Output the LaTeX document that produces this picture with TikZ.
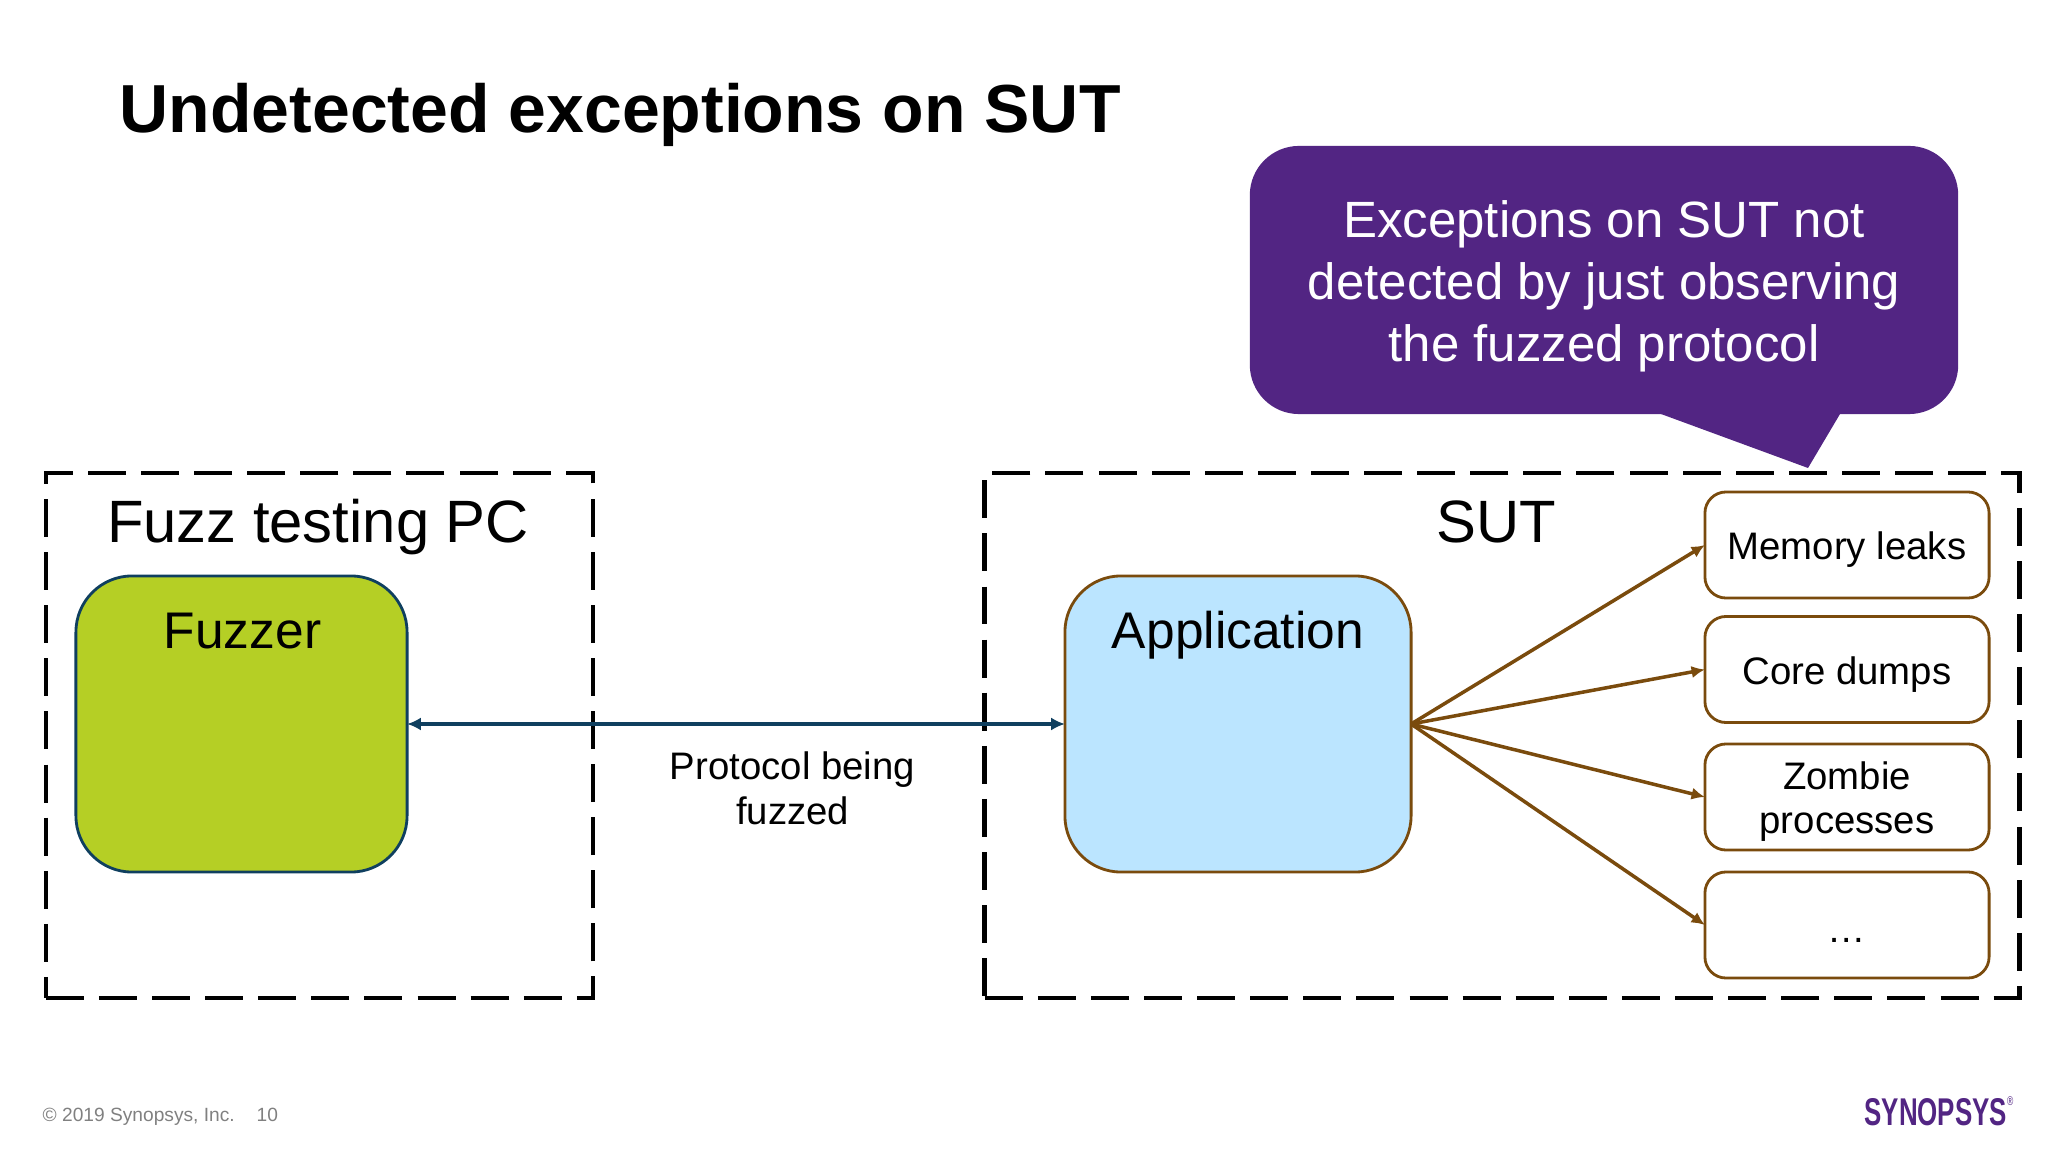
\documentclass[tikz,border=0pt]{standalone}
\usepackage{fontspec}
\setmainfont{Liberation Sans}
\usetikzlibrary{arrows.meta}
\definecolor{sparkpurple}{HTML}{522583}
\definecolor{fuzzgreen}{HTML}{B5CF25}
\definecolor{appblue}{HTML}{BBE5FF}
\definecolor{linkblue}{HTML}{0F3F5F}
\definecolor{faultbrown}{HTML}{7A4B0D}
\definecolor{footgray}{HTML}{808080}
\tikzset{
  dashbox/.style={draw=black,line width=1.3pt,dash pattern=on 10.8pt off 4.3pt,inner sep=0pt,outer sep=0pt},
  fuzzbox/.style={draw=linkblue,fill=fuzzgreen,line width=0.8pt,rounded corners=16pt,inner sep=0pt,outer sep=0pt},
  appbox/.style={draw=faultbrown,fill=appblue,line width=0.8pt,rounded corners=16pt,inner sep=0pt,outer sep=0pt},
  faultbox/.style={draw=faultbrown,fill=white,line width=0.8pt,rounded corners=6pt,inner sep=0pt,outer sep=0pt,
    align=center,text height=8.3pt,text depth=0pt,font=\fontsize{10.9}{12.5}\selectfont},
  biglabel/.style={inner sep=0pt,anchor=base,font=\fontsize{17}{19}\selectfont},
  midlabel/.style={inner sep=0pt,anchor=base,font=\fontsize{14.65}{17}\selectfont},
  footlabel/.style={inner sep=0pt,anchor=base west,text=footgray,font=\fontsize{5.45}{6}\selectfont},
  linkarrow/.style={linkblue,line width=1.1pt,{Latex[length=3.9pt,width=3.7pt]}-{Latex[length=3.9pt,width=3.7pt]}},
  faultarrow/.style={faultbrown,line width=1pt,-{Latex[length=3.8pt,width=3.5pt]}},
}
\begin{document}
\begin{tikzpicture}[x=0.01cm,y=-0.01cm]
\useasboundingbox (0,0) rectangle (2048,1152);
\node[inner sep=0pt,anchor=base west,font=\fontsize{19.33}{22}\selectfont\bfseries] (title) at (119,132.5) {Undetected exceptions on SUT};

% callout
\fill[sparkpurple] (1661,410) -- (1661,414) -- (1808,468) -- (1840,414) -- (1840,410) -- cycle;
\node[fill=sparkpurple,text=white,rounded corners=14pt,minimum width=7.08cm,minimum height=2.68cm,inner sep=0pt,
  align=center,text height=46.3pt,text depth=0pt,font=\fontsize{14.5}{17.6}\selectfont] (callout) at (1604,280)
  {Exceptions on SUT not\\detected by just observing\\the fuzzed protocol};

% the two machines
\node[dashbox,minimum width=5.47cm,minimum height=5.25cm] (pc) at (319.5,735.5) {};
\node[dashbox,minimum width=10.34cm,minimum height=5.25cm] (sut) at (1502,735.5) {};
\node[biglabel] (pclabel) at (318,543) {Fuzz testing PC};
\node[biglabel] (sutlabel) at (1496,543) {SUT};

\node[fuzzbox,minimum width=3.31cm,minimum height=2.96cm] (fuzzer) at (241.5,724) {};
\node[appbox,minimum width=3.46cm,minimum height=2.96cm] (app) at (1238,724) {};
\node[midlabel] (fuzzerlabel) at (242.5,649) {Fuzzer};
\node[midlabel] (applabel) at (1238,649) {Application};

\node[faultbox,minimum width=2.84cm,minimum height=1.06cm] (leaks) at (1847,545) {Memory leaks};
\node[faultbox,minimum width=2.84cm,minimum height=1.06cm] (core) at (1847,669.5) {Core dumps};
\node[faultbox,minimum width=2.84cm,minimum height=1.06cm,text height=20.8pt] (zombie) at (1847,797) {Zombie\\processes};
\node[faultbox,minimum width=2.84cm,minimum height=1.06cm,text height=10pt] (more) at (1847,925) {\dots};

\draw[linkarrow] (fuzzer.east) to (app.west);
\node[inner sep=0pt,align=center,font=\fontsize{10.9}{12.7}\selectfont] (protocol) at (792.5,788) {Protocol being\\fuzzed};

\draw[faultarrow] (app.east) to (leaks.west);
\draw[faultarrow] (app.east) to (core.west);
\draw[faultarrow] (app.east) to (zombie.west);
\draw[faultarrow] (app.east) to (more.west);

% footer
\node[footlabel] (copyright) at (42,1121) {© 2019 Synopsys, Inc.};
\node[footlabel] (pageno) at (256,1121) {10};
\node[inner sep=0pt,anchor=base west,text=sparkpurple,xscale=0.67,transform shape,font=\fontsize{11}{12}\selectfont\bfseries] (logo) at (1864,1125) {SYNOPSYS\raisebox{5.6pt}{\fontsize{3.6}{4}\selectfont\mdseries ®}};
\end{tikzpicture}
\end{document}
